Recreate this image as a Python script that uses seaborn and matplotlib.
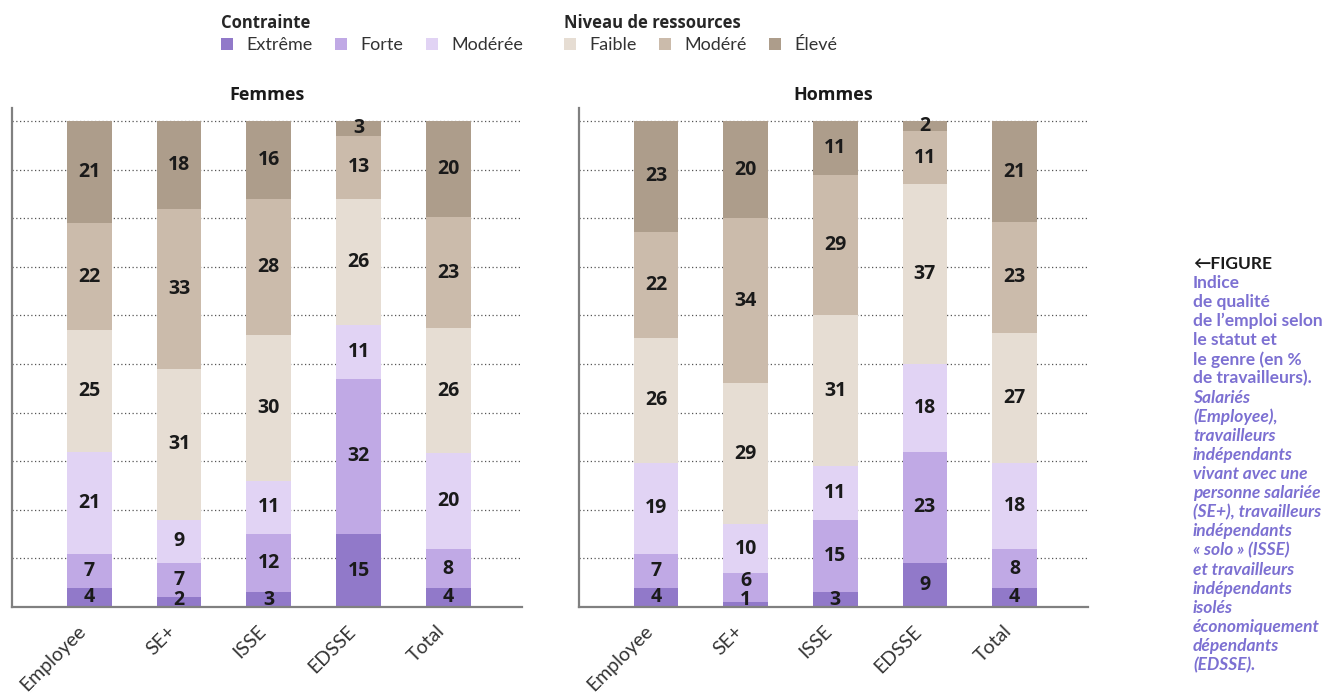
import pandas as pd
import matplotlib.pyplot as plt
import seaborn as sns
from matplotlib.patches import Patch

# Données (en % de travailleurs), du bas vers le haut de chaque barre
categories = ["Employee", "SE+", "ISSE", "EDSSE", "Total"]
niveaux = ["Extrême", "Forte", "Modérée", "Faible", "Modéré", "Élevé"]

femmes_extreme = [4, 2, 3, 15, 4]
femmes_forte = [7, 7, 12, 32, 8]
femmes_moderee = [21, 9, 11, 11, 20]
femmes_faible = [25, 31, 30, 26, 26]
femmes_modere = [22, 33, 28, 13, 23]
femmes_eleve = [21, 18, 16, 3, 20]

hommes_extreme = [4, 1, 3, 9, 4]
hommes_forte = [7, 6, 15, 23, 8]
hommes_moderee = [19, 10, 11, 18, 18]
hommes_faible = [26, 29, 31, 37, 27]
hommes_modere = [22, 34, 29, 11, 23]
hommes_eleve = [23, 20, 11, 2, 21]

couleurs = ["#9179C9", "#C0A9E5", "#E1D3F4", "#E6DDD3", "#CBBBAB", "#AD9D8B"]

sns.set_theme(style="white")
plt.rcParams["font.family"] = ["Lato", "DejaVu Sans"]

fig = plt.figure(figsize=(13.44, 6.93), dpi=100)
ax_f = fig.add_axes([12 / 1344, 0.1241, 510 / 1344, 0.7201])
ax_h = fig.add_axes([579 / 1344, 0.1241, 509 / 1344, 0.7201])


def panneau(ax, series, titre):
    df = pd.DataFrame(dict(zip(niveaux, series)), index=categories)
    # les arrondis donnent parfois 101 : on ramène chaque barre à 100 %
    parts = df.div(df.sum(axis=1), axis=0) * 100
    cumul = parts.cumsum(axis=1)
    # on dessine les cumuls du haut vers le bas pour empiler
    for niv, coul in reversed(list(zip(niveaux, couleurs))):
        sns.barplot(x=categories, y=cumul[niv].values, order=categories, color=coul,
                    saturation=1, width=0.5, linewidth=0, ax=ax, zorder=2)
    for i, cat in enumerate(categories):
        bas = 0
        prec = 1.5 - 3.8  # écart mini entre étiquettes des petits segments
        for niv in niveaux:
            h = parts.loc[cat, niv]
            y = max(bas + h / 2, prec + 3.8)
            ax.text(i, y, str(df.loc[cat, niv]), ha="center", va="center",
                    fontsize=14, fontweight="bold", color="#1a1a1a", zorder=3,
                    family=["Open Sans", "DejaVu Sans"])
            prec = y
            bas += h
    ax.set_xlim(-0.86, 4.82)
    ax.set_ylim(0, 102.7)
    ax.set_yticks(range(10, 101, 10))
    ax.yaxis.grid(True, linestyle=(0, (1, 2)), color="#555555", linewidth=0.9)
    ax.xaxis.grid(False)
    ax.set_axisbelow(True)
    ax.tick_params(axis="y", length=0, labelleft=False)
    ax.tick_params(axis="x", length=0, pad=11, labelsize=14, labelcolor="#333333")
    for lab in ax.get_xticklabels():
        lab.set_rotation(45)
        lab.set_ha("right")
    for s in ["top", "right"]:
        ax.spines[s].set_visible(False)
    for s in ["left", "bottom"]:
        ax.spines[s].set_color("#808080")
        ax.spines[s].set_linewidth(1.6)
    ax.set_xlabel("")
    ax.set_ylabel("")
    ax.set_title(titre, fontsize=13, fontweight="bold", color="#1a1a1a", pad=6,
                 family=["Open Sans", "DejaVu Sans"])


panneau(ax_f, [femmes_extreme, femmes_forte, femmes_moderee,
               femmes_faible, femmes_modere, femmes_eleve], "Femmes")
panneau(ax_h, [hommes_extreme, hommes_forte, hommes_moderee,
               hommes_faible, hommes_modere, hommes_eleve], "Hommes")

# Légendes
poignees = [Patch(facecolor=c, edgecolor="none") for c in couleurs]
for idx, titre, x0 in [(slice(0, 3), "Contrainte", 221),
                       (slice(3, 6), "Niveau de ressources", 564)]:
    leg = fig.legend(poignees[idx], niveaux[idx], title=titre, ncol=3, loc="upper left",
                     bbox_to_anchor=(x0 / 1344, 1 - 14 / 693), frameon=False,
                     handlelength=0.65, handleheight=0.65, handletextpad=0.75,
                     columnspacing=1.25, borderpad=0, borderaxespad=0,
                     alignment="left", fontsize=13, labelspacing=0.3,
                     title_fontproperties={"weight": "bold", "size": 12,
                                           "family": ["Open Sans", "DejaVu Sans"]})
    for t in leg.get_texts():
        t.set_color("#333333")

# Légende de la figure
pas = 19.1
fs = 12.5
fig.text(1193 / 1344, 1 - 264 / 693, "\u2190FIGURE", ha="left", va="center",
         fontsize=fs, fontweight="bold", color="#1a1a1a")
lignes_gras = ["Indice", "de qualité", "de l\u2019emploi selon", "le statut et",
               "le genre (en %", "de travailleurs)."]
lignes_ital = ["Salariés", "(Employee),", "travailleurs", "indépendants",
               "vivant avec une", "personne salariée", "(SE+), travailleurs",
               "indépendants", "« solo » (ISSE)", "et travailleurs", "indépendants",
               "isolés", "économiquement", "dépendants", "(EDSSE)."]
violet = "#7C70D2"
for k, l in enumerate(lignes_gras, start=1):
    fig.text(1193 / 1344, 1 - (264 + k * pas) / 693, l, ha="left", va="center",
             fontsize=fs, fontweight="bold", color=violet)
for k, l in enumerate(lignes_ital, start=7):
    fig.text(1193 / 1344, 1 - (264 + k * pas) / 693, l, ha="left", va="center",
             fontsize=fs, fontstyle="italic", fontweight="bold", color=violet)

fig.savefig("out.png", dpi=100)
